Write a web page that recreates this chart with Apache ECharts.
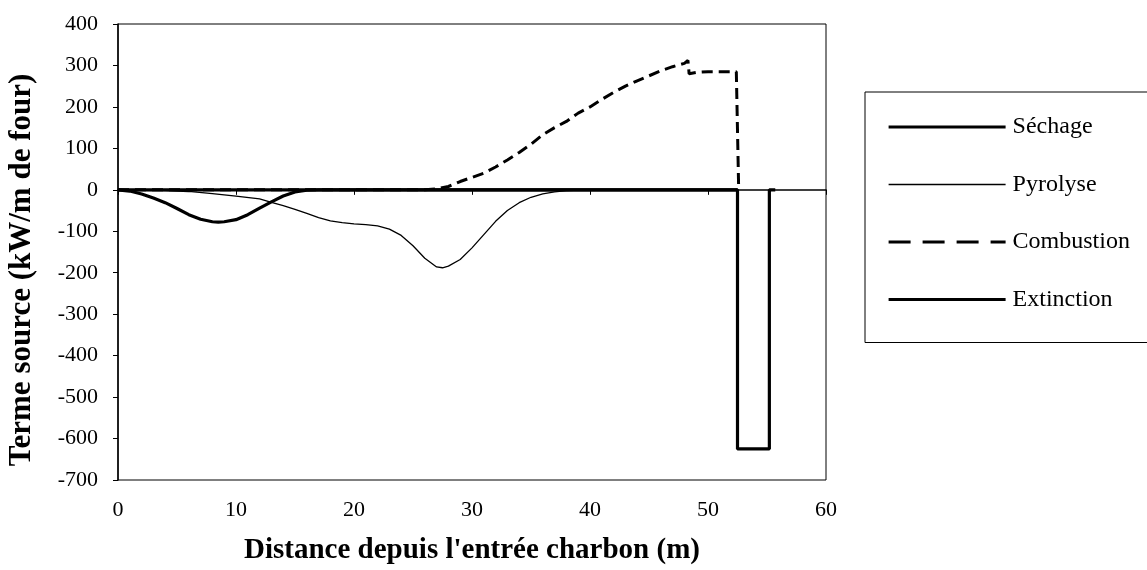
<!DOCTYPE html>
<html><head><meta charset="utf-8">
<script src="https://cdn.jsdelivr.net/npm/echarts@6/dist/echarts.min.js"></script>
<style>html,body{margin:0;padding:0;background:#fff}#c{width:1147px;height:570px}</style>
</head><body><div id="c"></div>
<script>
const seriesNames = ['Séchage','Pyrolyse','Combustion','Extinction'];
const xTicks = [0,10,20,30,40,50,60];
const yTicks = [-700,-600,-500,-400,-300,-200,-100,0,100,200,300,400];
const sechage = [[0,0],[1,-3],[2,-10],[3,-20],[4,-31],[5,-45],[6,-60],[7,-71],[8,-77],[8.5,-78],[9,-77],[10,-72],[11,-60],[12,-44],[13,-29],[14,-15],[15,-5],[16,-1],[17,0],[52.5,0]];
const pyrolyse = [[0,0],[2,-1],[4,-2],[6,-4],[8,-9],[10,-15],[12,-22],[13,-30],[14,-38],[15,-47],[16,-57],[17,-67],[18,-75],[19,-79],[20,-82],[21,-84],[22,-87],[23,-95],[24,-110],[25,-135],[26,-165],[27,-186],[27.5,-188],[28,-184],[29,-168],[30,-140],[31,-108],[32,-76],[33,-50],[34,-31],[35,-18],[36,-10],[37,-5],[38,-2],[40,0],[52.5,0]];
const combustion = [[0,0],[26,0],[27,2],[28,8],[29,20],[30,30],[31,40],[32,55],[33,72],[34,90],[35,110],[36,133],[37,150],[38,165],[39,185],[40,200],[41,218],[42,235],[43,250],[44,263],[45,275],[46,287],[47,297],[48,305],[48.3,312],[48.4,280],[49,283],[50,285],[51,285],[52.4,285],[52.6,0]];
const extinction = [[0,0],[52.5,0],[52.5,-625],[55.2,-625],[55.2,0],[55.7,0]];

const font = 'Liberation Serif';
const chart = echarts.init(document.getElementById('c'));
const common = {type:'line', symbol:'none', showSymbol:false, animation:false, smooth:false};
const styles = [
  {color:'#000', width:3.2},
  {color:'#000', width:1.3},
  {color:'#000', width:3, type:[11,6]},
  {color:'#000', width:3.2}
];
const legendStyles = [
  {color:'#000', width:3.2},
  {color:'#000', width:1.3},
  {color:'#000', width:3, type:[22,12]},
  {color:'#000', width:3.2}
];
chart.setOption({
  animation:false,
  grid:{left:118, right:321, top:24, bottom:90, show:true, borderColor:'#000', borderWidth:1, outerBoundsMode:'none', containLabel:false},
  xAxis:{type:'value', min:xTicks[0], max:xTicks[xTicks.length-1], interval:10,
    name:"Distance depuis l'entrée charbon (m)", nameLocation:'middle', nameGap:56,
    nameTextStyle:{fontFamily:font, fontWeight:'bold', fontSize:29, color:'#000'},
    axisLine:{lineStyle:{color:'#000', width:1.5}},
    axisTick:{show:true, length:5, lineStyle:{color:'#000'}},
    axisLabel:{fontFamily:font, fontSize:22, color:'#000', margin:19},
    splitLine:{show:false}},
  yAxis:{type:'value', min:yTicks[0], max:yTicks[yTicks.length-1], interval:100,
    name:'Terme source (kW/m de four)', nameLocation:'middle', nameGap:81,
    nameTextStyle:{fontFamily:font, fontWeight:'bold', fontSize:31, color:'#000', padding:[0,36,0,0]},
    axisLine:{onZero:false, lineStyle:{color:'#000', width:1.5}},
    axisTick:{show:true, length:5, lineStyle:{color:'#000'}},
    axisLabel:{fontFamily:font, fontSize:22, color:'#000', margin:20},
    splitLine:{show:false}},
  legend:{orient:'vertical', left:865, top:92,
    data:seriesNames.map((n,i)=>({name:n, lineStyle:legendStyles[i]})),
    itemWidth:117, itemHeight:14, itemGap:33.5,
    padding:[23,120,31,22], borderColor:'#000', borderWidth:1,
    itemStyle:{color:'rgba(0,0,0,0)', borderColor:'rgba(0,0,0,0)', borderWidth:0, opacity:0},
    textStyle:{fontFamily:font, fontSize:24, color:'#000', padding:[0,0,0,2]}},
  series:seriesNames.map((n,i)=>Object.assign({name:n, data:[sechage,pyrolyse,combustion,extinction][i], lineStyle:styles[i], itemStyle:{color:'#000'}, z:[3,2,2,4][i]}, common))
});
</script></body></html>
